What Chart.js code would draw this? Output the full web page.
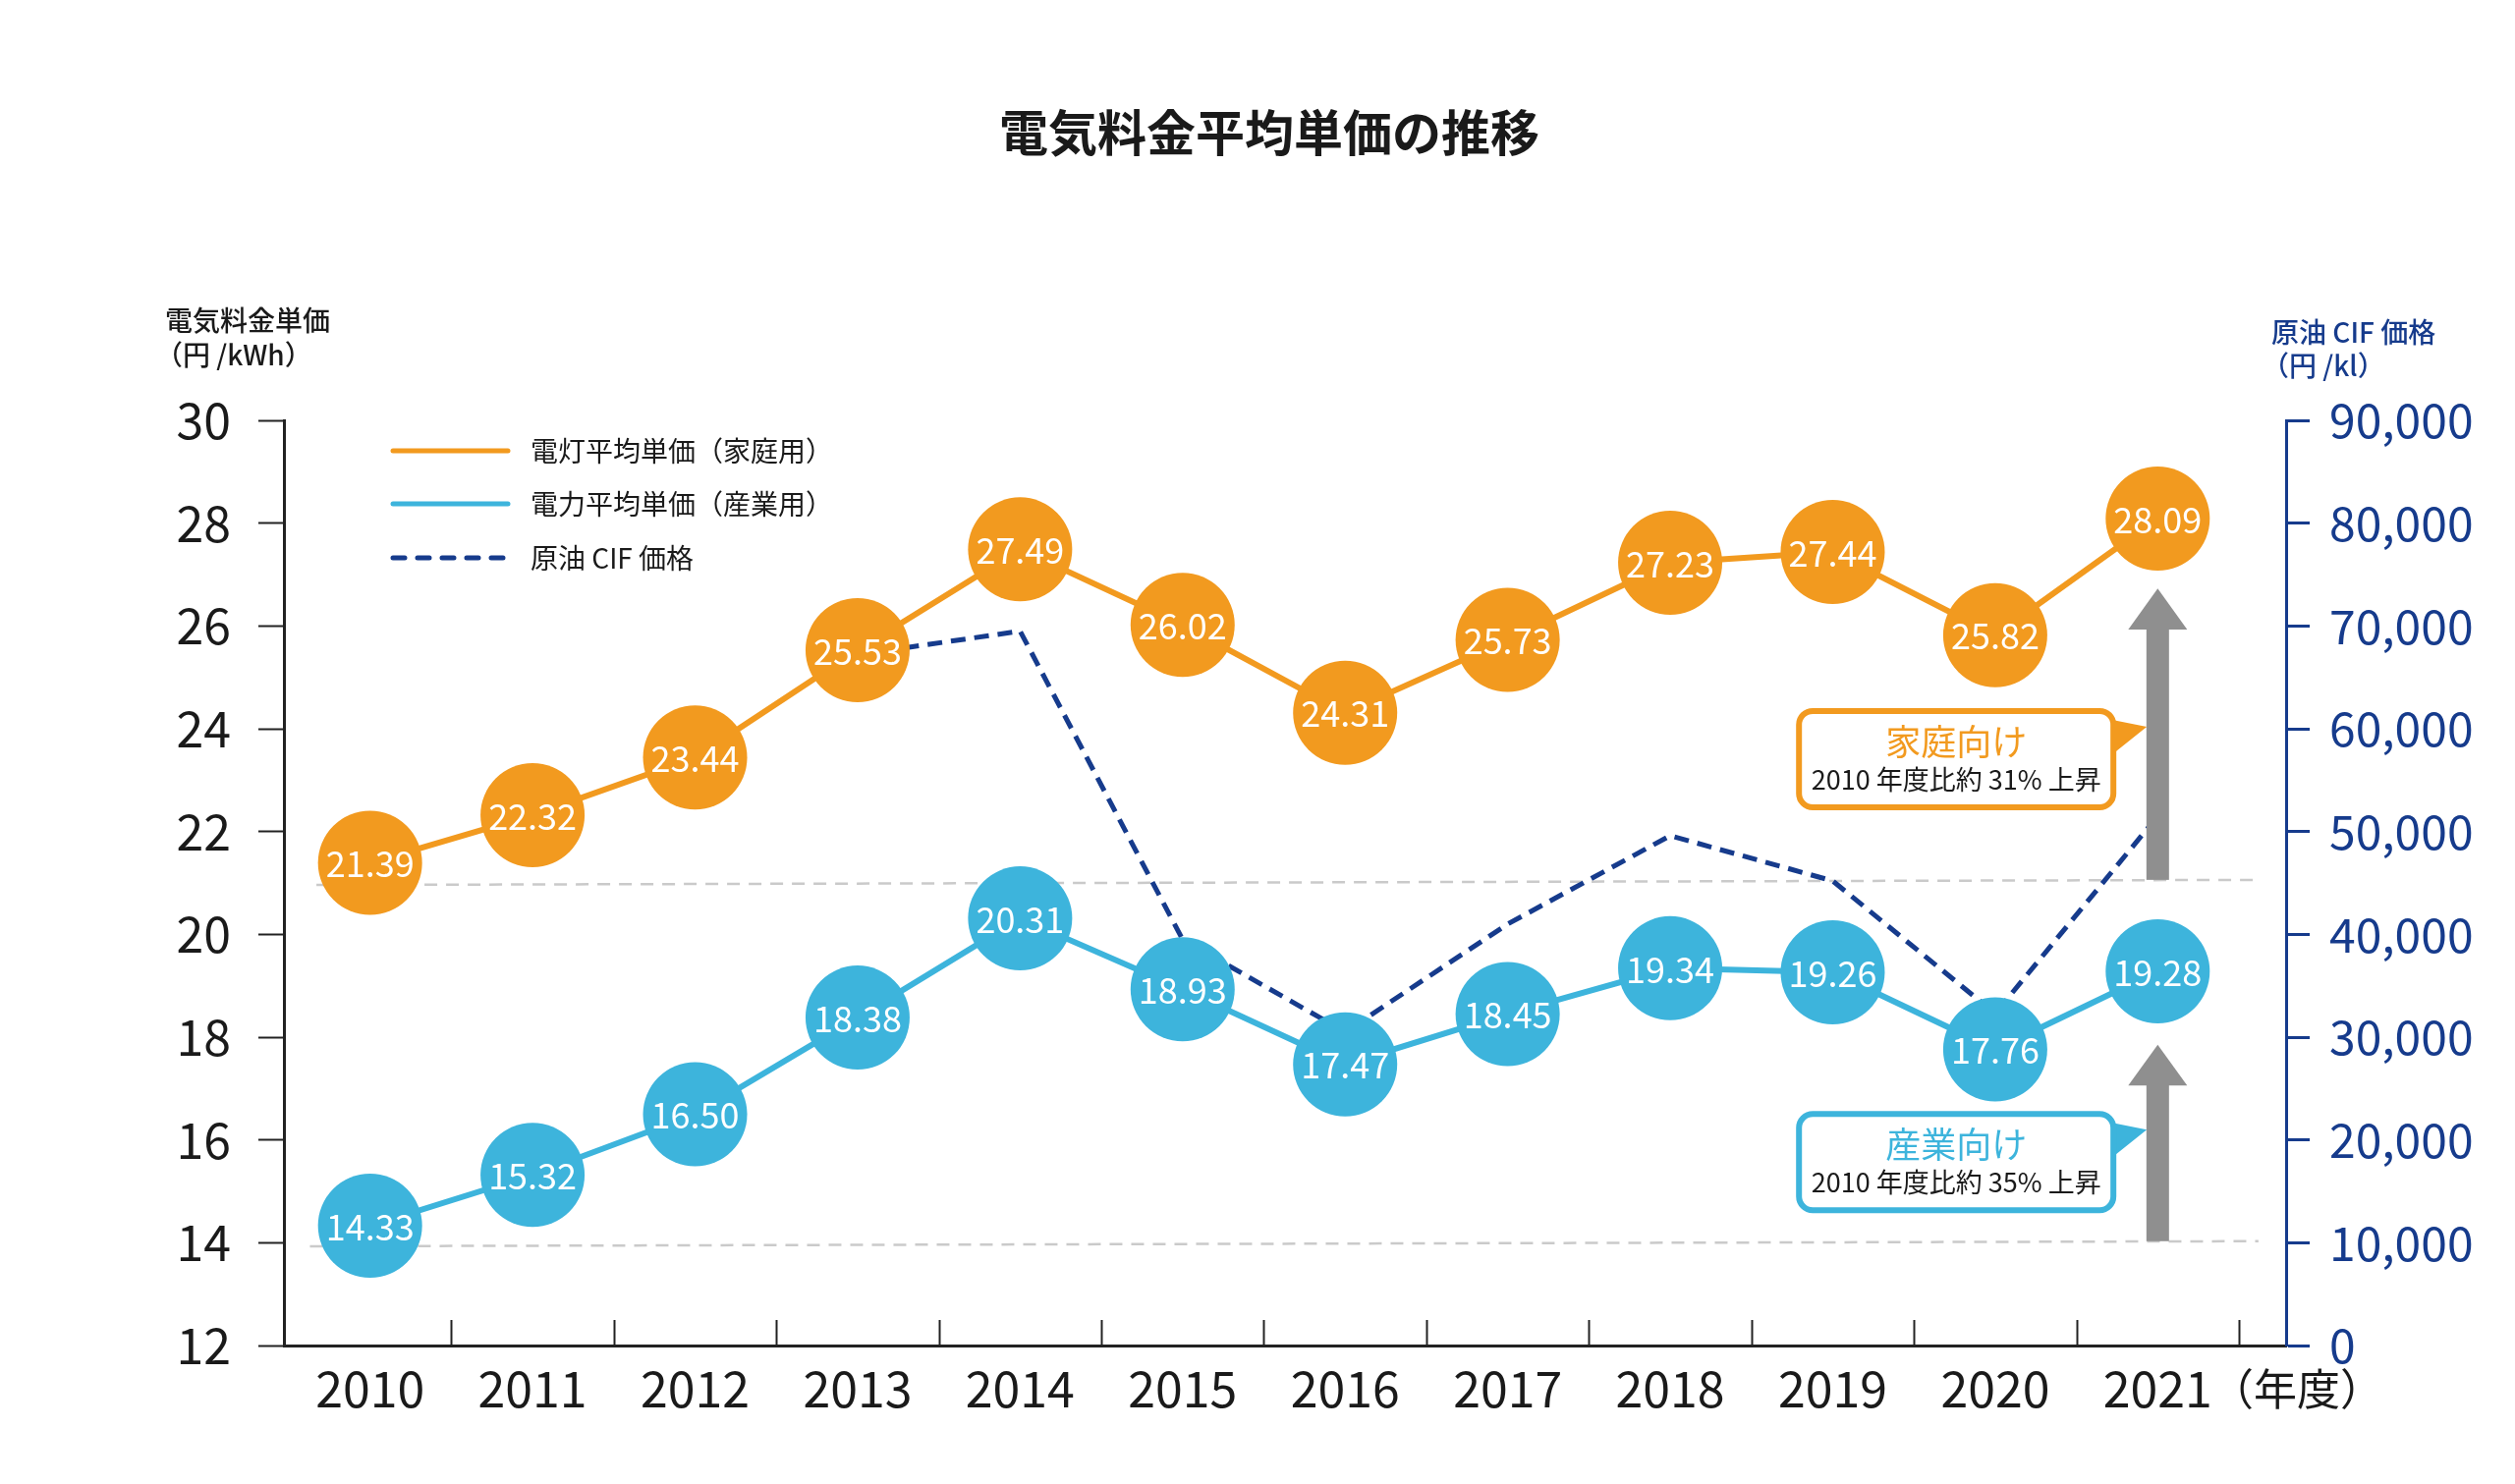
<!DOCTYPE html>
<html>
<head>
<meta charset="utf-8">
<script src="https://cdn.jsdelivr.net/npm/chart.js@4.4.1/dist/chart.umd.min.js"></script>
<style>
html,body{margin:0;padding:0;background:#ffffff;}
#wrap{width:2560px;height:1511px;position:relative;}
</style>
</head>
<body>
<div id="wrap"><canvas id="c" width="2560" height="1511"></canvas></div>
<script>
// ---------------- data ----------------
const categories = ['2010','2011','2012','2013','2014','2015','2016','2017','2018','2019','2020','2021'];
const householdPrice = [21.39,22.32,23.44,25.53,27.49,26.02,24.31,25.73,27.23,27.44,25.82,28.09];
const industrialPrice = [14.33,15.32,16.50,18.38,20.31,18.93,17.47,18.45,19.34,19.26,17.76,19.28];
const crudeCifPrice = [null,null,null,67200,69500,39500,30500,41000,49600,45200,32300,51500];
const leftTicks = [12,14,16,18,20,22,24,26,28,30];
const rightTicks = [0,10000,20000,30000,40000,50000,60000,70000,80000,90000];
const seriesNames = ['電灯平均単価（家庭用）','電力平均単価（産業用）','原油 CIF 価格'];
const titleText = '電気料金平均単価の推移';
const leftAxisTitle = ['電気料金単価','（円 /kWh）'];
const rightAxisTitle = ['原油 CIF 価格','（円 /kl）'];
const xUnitText = '（年度）';
const calloutTitles = ['家庭向け','産業向け'];
const calloutNotes = ['2010 年度比約 31% 上昇','2010 年度比約 35% 上昇'];

// ---------------- styles / layout ----------------
const JP = '"Noto Sans CJK JP","Noto Sans",sans-serif';
const ORANGE = '#f29a1f';
const BLUE = '#3db4dc';
const NAVY = '#163b8c';
const GRAY = '#8f8f8f';
const INK = '#1a1a1a';

// annotation geometry expressed in axis units (x: category index, y: left axis)
const refLines = [
  {x0:-0.33, y0:20.96, x1:11.62, y1:21.06},
  {x0:-0.37, y0:13.93, x1:11.62, y1:14.03}
];
const arrows = [
  {x:11, base:21.06, headBase:25.95, tip:26.73},
  {x:11, base:14.03, headBase:17.08, tip:17.85}
];
const calloutGeom = [
  {cx:9.76, cy:23.41, color:ORANGE},
  {cx:9.76, cy:15.57, color:BLUE}
];
const seriesValues = [householdPrice, industrialPrice];

const decoPlugin = {
  id: 'deco',
  beforeDatasetsDraw(chart) {
    const {ctx, scales:{x, y}} = chart;
    ctx.save();
    ctx.strokeStyle = '#cacaca';
    ctx.lineWidth = 2.5;
    ctx.setLineDash([13, 9]);
    refLines.forEach(r => {
      ctx.beginPath();
      ctx.moveTo(x.getPixelForValue(r.x0), y.getPixelForValue(r.y0));
      ctx.lineTo(x.getPixelForValue(r.x1), y.getPixelForValue(r.y1));
      ctx.stroke();
    });
    ctx.restore();
  },
  afterDatasetsDraw(chart) {
    const {ctx, scales:{x, y}, chartArea} = chart;
    ctx.save();
    // value labels inside the markers
    ctx.fillStyle = '#ffffff';
    ctx.font = '36px ' + JP;
    ctx.textAlign = 'center';
    ctx.textBaseline = 'middle';
    [0, 1].forEach(di => {
      const meta = chart.getDatasetMeta(di);
      const vals = seriesValues[di];
      meta.data.forEach((pt, i) => {
        ctx.fillText(Number(vals[i]).toFixed(2), pt.x, pt.y + 1);
      });
    });

    // x-axis tick marks (pointing up, between categories)
    ctx.strokeStyle = '#222';
    ctx.lineWidth = 2;
    for (let i = 0; i < categories.length; i++) {
      const px = Math.round(x.getPixelForValue(i + 0.5)) + 0.5;
      ctx.beginPath();
      ctx.moveTo(px, chartArea.bottom);
      ctx.lineTo(px, chartArea.bottom - 26);
      ctx.stroke();
    }

    // grey arrows
    ctx.fillStyle = GRAY;
    arrows.forEach(a => {
      const cx = x.getPixelForValue(a.x);
      const yb = y.getPixelForValue(a.base);
      const yh = y.getPixelForValue(a.headBase);
      const yt = y.getPixelForValue(a.tip);
      ctx.fillRect(cx - 11.5, yh, 23, yb - yh);
      ctx.beginPath();
      ctx.moveTo(cx - 30, yh + 1);
      ctx.lineTo(cx, yt);
      ctx.lineTo(cx + 30, yh + 1);
      ctx.closePath();
      ctx.fill();
    });

    // callout boxes
    calloutGeom.forEach((g, i) => {
      const cx = x.getPixelForValue(g.cx);
      const cy = y.getPixelForValue(g.cy);
      const w = 320, h = 98, r = 14;
      const left = cx - w / 2, top = cy - h / 2;
      ctx.fillStyle = g.color;
      ctx.beginPath();
      ctx.moveTo(left + w - 6, top + 8);
      ctx.lineTo(left + w + 34, top + 16);
      ctx.lineTo(left + w - 6, top + 48);
      ctx.closePath();
      ctx.fill();
      ctx.beginPath();
      ctx.roundRect(left, top, w, h, r);
      ctx.fillStyle = '#ffffff';
      ctx.fill();
      ctx.lineWidth = 6;
      ctx.strokeStyle = g.color;
      ctx.stroke();
      ctx.textAlign = 'center';
      ctx.textBaseline = 'middle';
      ctx.fillStyle = g.color;
      ctx.font = '36px ' + JP;
      ctx.fillText(calloutTitles[i], cx, top + 31);
      ctx.fillStyle = INK;
      ctx.font = '27px ' + JP;
      ctx.fillText(calloutNotes[i], cx, top + 70);
    });
    ctx.restore();
  },
  afterDraw(chart) {
    const {ctx} = chart;
    ctx.save();
    ctx.fillStyle = INK;
    ctx.font = 'bold 50px ' + JP;
    ctx.textAlign = 'center';
    ctx.textBaseline = 'middle';
    ctx.fillText(titleText, 1292, 135);

    ctx.textAlign = 'left';
    ctx.font = '500 28px ' + JP;
    ctx.fillStyle = INK;
    ctx.fillText(leftAxisTitle[0], 168, 326);
    ctx.fillText(leftAxisTitle[1], 158, 361);
    ctx.fillStyle = NAVY;
    ctx.fillText(rightAxisTitle[0], 2312, 338);
    ctx.fillText(rightAxisTitle[1], 2302, 372);

    ctx.fillStyle = INK;
    ctx.font = '44px ' + JP;
    ctx.textBaseline = 'middle';
    ctx.fillText(xUnitText, 2250, 1414);

    const rows = [459, 513, 568];
    chart.data.datasets.forEach((ds, i) => {
      ctx.strokeStyle = ds.borderColor;
      ctx.lineWidth = 5;
      ctx.lineCap = 'round';
      ctx.setLineDash(i === 2 ? [12, 13] : []);
      ctx.beginPath();
      ctx.moveTo(400, rows[i]);
      ctx.lineTo(517, rows[i]);
      ctx.stroke();
      ctx.setLineDash([]);
      ctx.fillStyle = INK;
      ctx.font = '28px ' + JP;
      ctx.textAlign = 'left';
      ctx.textBaseline = 'middle';
      ctx.fillText(seriesNames[i], 540, rows[i]);
    });
    ctx.restore();
  }
};

const chart = new Chart(document.getElementById('c'), {
  type: 'line',
  data: {
    datasets: [
      {
        label: seriesNames[0],
        data: householdPrice.map((v, i) => ({x: i, y: v})),
        borderColor: ORANGE, backgroundColor: ORANGE,
        borderWidth: 6, tension: 0,
        pointRadius: 53, pointHoverRadius: 53, pointBackgroundColor: ORANGE, pointBorderWidth: 0,
        yAxisID: 'y', order: 0
      },
      {
        label: seriesNames[1],
        data: industrialPrice.map((v, i) => ({x: i, y: v})),
        borderColor: BLUE, backgroundColor: BLUE,
        borderWidth: 6, tension: 0,
        pointRadius: 53, pointHoverRadius: 53, pointBackgroundColor: BLUE, pointBorderWidth: 0,
        yAxisID: 'y', order: 1
      },
      {
        label: seriesNames[2],
        data: crudeCifPrice.map((v, i) => ({x: i, y: v})),
        borderColor: NAVY, backgroundColor: NAVY,
        borderWidth: 5, borderDash: [15, 9], tension: 0,
        pointRadius: 0, pointHoverRadius: 0,
        spanGaps: false,
        yAxisID: 'y2', order: 5
      }
    ]
  },
  options: {
    responsive: false,
    devicePixelRatio: 1,
    animation: false,
    events: [],
    layout: {padding: {top: 428, left: 0, right: 0, bottom: 0}},
    plugins: {legend: {display: false}, tooltip: {enabled: false}, title: {display: false}},
    scales: {
      x: {
        type: 'linear', min: -0.53, max: 11.79,
        afterBuildTicks: s => { s.ticks = categories.map((c, i) => ({value: i})); },
        afterFit: s => { s.height = 141; },
        ticks: {
          callback: (v, i) => categories[i],
          font: {family: JP, size: 50}, color: INK,
          padding: 14, maxRotation: 0, autoSkip: false
        },
        grid: {display: false, drawTicks: false},
        border: {display: true, color: '#222', width: 3}
      },
      y: {
        type: 'linear', position: 'left', min: 12, max: 30,
        afterBuildTicks: s => { s.ticks = leftTicks.map(v => ({value: v})); },
        afterFit: s => { s.width = 289; },
        ticks: {font: {family: JP, size: 50}, color: INK, padding: 28},
        grid: {drawOnChartArea: false, drawTicks: true, tickLength: 26, tickColor: '#222', tickWidth: 2},
        border: {display: true, color: '#222', width: 3}
      },
      y2: {
        type: 'linear', position: 'right', min: 0, max: 90000,
        afterBuildTicks: s => { s.ticks = rightTicks.map(v => ({value: v})); },
        afterFit: s => { s.width = 233; },
        ticks: {
          font: {family: JP, size: 48}, color: NAVY, padding: 20,
          callback: v => v.toLocaleString('en-US')
        },
        grid: {drawOnChartArea: false, drawTicks: true, tickLength: 24, tickColor: NAVY, tickWidth: 3},
        border: {display: true, color: NAVY, width: 3}
      }
    }
  },
  plugins: [decoPlugin]
});
</script>
</body>
</html>
